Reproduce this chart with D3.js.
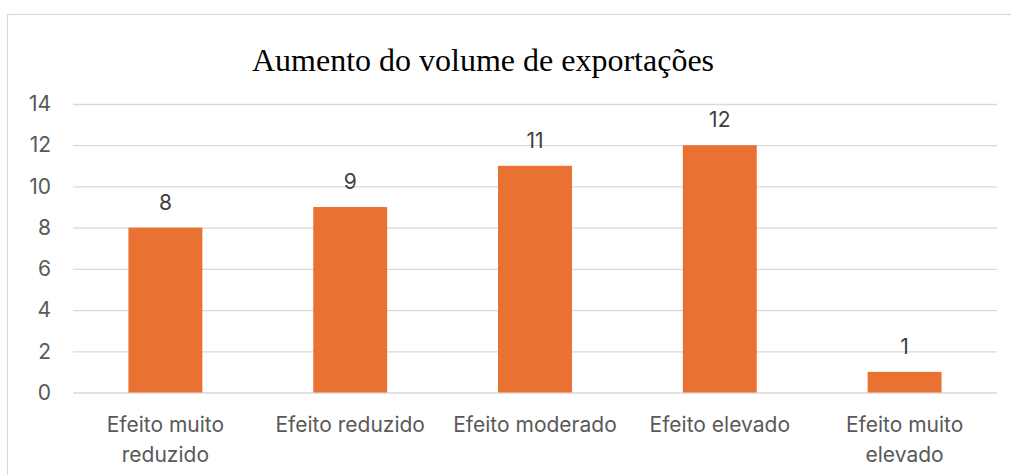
<!DOCTYPE html>
<html><head><meta charset="utf-8">
<script src="https://cdn.jsdelivr.net/npm/d3@7"></script>
<style>body{margin:0;background:#fff;} svg{display:block;}</style>
</head><body>
<svg id="c" width="1011" height="475"></svg>
<script>
const categories = [["Efeito muito","reduzido"],["Efeito reduzido"],["Efeito moderado"],["Efeito elevado"],["Efeito muito","elevado"]];
const values = [8, 9, 11, 12, 1];
const yTicks = [0, 2, 4, 6, 8, 10, 12, 14];
const title = "Aumento do volume de exportações";

const svg = d3.select("#c");
const font = "Inter, 'Liberation Sans', sans-serif";
const fs = "21px";
svg.append("rect").attr("x",7.5).attr("y",14.5).attr("width",1020).attr("height",480)
  .attr("fill","#fff").attr("stroke","#d9d9d9").attr("stroke-width",1.2);

const x0 = 73, x1 = 997;
const y = d3.scaleLinear().domain([0,14]).range([392.5,104]);
const xb = d3.scaleBand().domain(d3.range(values.length)).range([x0,x1]).padding(0);

const yAxis = d3.axisLeft(y).tickValues(yTicks).tickSize(-(x1-x0)).tickPadding(22);
const g = svg.append("g").attr("transform",`translate(${x0},0)`).call(yAxis);
g.select(".domain").remove();
g.selectAll(".tick line").attr("stroke","#d9d9d9").attr("stroke-width",1.3);
g.selectAll(".tick text").attr("fill","#595959").style("font-family",font).style("font-size",fs);

const bw = xb.bandwidth()*0.4;
svg.selectAll("rect.bar").data(values).join("rect").attr("class","bar")
  .attr("x",(d,i)=>xb(i)+xb.bandwidth()/2-bw/2).attr("width",bw)
  .attr("y",d=>y(d)).attr("height",d=>y(0)-y(d)).attr("fill","#E97132");

svg.selectAll("text.lbl").data(values).join("text").attr("class","lbl")
  .attr("x",(d,i)=>xb(i)+xb.bandwidth()/2).attr("y",d=>y(d)-18)
  .attr("text-anchor","middle").attr("fill","#404040")
  .style("font-family",font).style("font-size",fs).text(d=>d);

const cl = svg.selectAll("text.cat").data(categories).join("text").attr("class","cat")
  .attr("x",(d,i)=>xb(i)+xb.bandwidth()/2).attr("y",432)
  .attr("text-anchor","middle").attr("fill","#595959")
  .style("font-family",font).style("font-size",fs);
cl.selectAll("tspan").data(d=>d).join("tspan")
  .attr("x",function(){return d3.select(this.parentNode).attr("x");})
  .attr("dy",(d,i)=>i?30:0).text(d=>d);

svg.append("text").attr("x",483).attr("y",71).attr("text-anchor","middle")
  .style("font-family","'Liberation Serif', 'Times New Roman', serif").style("font-size","32px")
  .attr("fill","#000").text(title);
</script>
</body></html>
